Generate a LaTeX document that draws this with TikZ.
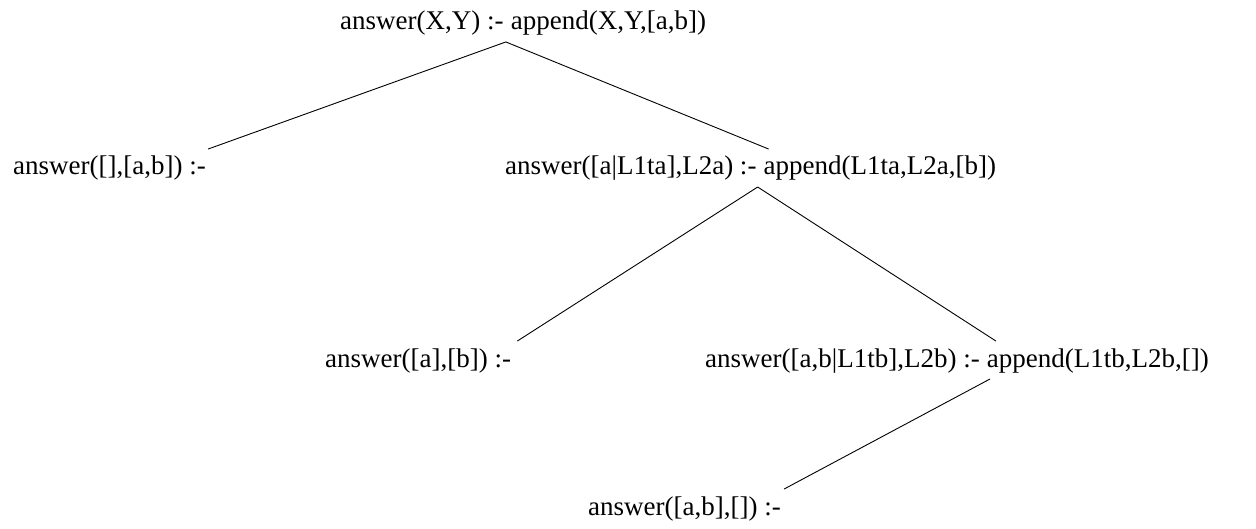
\documentclass[tikz,border=0pt]{standalone}
\usepackage{fontspec}
\setmainfont{Liberation Serif}
\begin{document}
\begin{tikzpicture}[x=1pt,y=-1pt,
  head/.style={inner sep=0pt, anchor=base west, font=\fontsize{27}{32}\selectfont},
  body/.style={inner sep=0pt, anchor=base west, font=\fontsize{27}{32}\selectfont, xshift=6.75pt},
  edge/.style={line width=0.9pt}]
\useasboundingbox (0,0) rectangle (1256,529);
% nodes
\node[head] (r) at (340,30) {answer(X,Y) :-};
\node[body] (rb) at (r.base east) {append(X,Y,[a,b])};
\node[head] (a) at (13,175) {answer([],[a,b]) :-};
\node[head] (b) at (505,175) {answer([a|L1ta],L2a) :-};
\node[body] (bb) at (b.base east) {append(L1ta,L2a,[b])};
\node[head] (c) at (325,367) {answer([a],[b]) :-};
\node[head] (d) at (705,367) {answer([a,b|L1tb],L2b) :-};
\node[body] (db) at (d.base east) {append(L1tb,L2b,[])};
\node[head] (e) at (588,515) {answer([a,b],[]) :-};
% connectors
\draw[edge] ([xshift=2pt,yshift=-6pt]r.south east) -- ([xshift=2pt,yshift=7pt]a.north east);
\draw[edge] ([xshift=2pt,yshift=-6pt]r.south east) -- ([xshift=12pt,yshift=7pt]b.north east);
\draw[edge] ([xshift=1pt,yshift=-6pt]b.south east) -- ([xshift=6pt,yshift=7pt]c.north east);
\draw[edge] ([xshift=1pt,yshift=-6pt]b.south east) -- ([xshift=16pt,yshift=7pt]d.north east);
\draw[edge] ([xshift=10pt,yshift=-6pt]d.south east) -- ([xshift=3pt,yshift=7pt]e.north east);
\end{tikzpicture}
\end{document}
